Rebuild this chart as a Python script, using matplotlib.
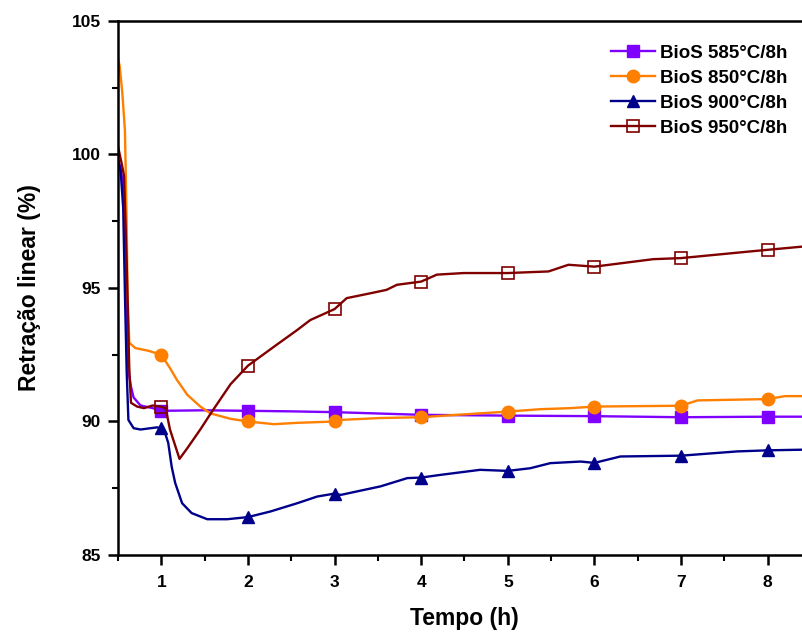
import numpy as np
import matplotlib.pyplot as plt
from matplotlib.ticker import MultipleLocator

plt.rcParams['font.family'] = ['Liberation Sans', 'DejaVu Sans']
plt.rcParams['font.weight'] = 'bold'

# values (time in h, retraction in %)
t_585 = [0.5, 0.53, 0.56, 0.6, 0.62, 0.65, 0.68, 0.76, 0.9, 1.0, 1.5, 2.0, 2.5, 3.0, 3.5, 4.0, 5.0, 6.0, 7.0, 8.0, 8.5]
y_585 = [99.8, 99.5, 98.8, 95.1, 91.9, 91.3, 90.9, 90.6, 90.5, 90.4, 90.42, 90.4, 90.38, 90.35, 90.3, 90.25, 90.22, 90.2, 90.16, 90.18, 90.18]

t_850 = [0.5, 0.52, 0.55, 0.58, 0.6, 0.61, 0.63, 0.7, 0.85, 1.0, 1.1, 1.18, 1.3, 1.45, 1.57, 1.8, 2.0, 2.3, 2.57, 3.0, 3.07, 3.53, 4.0, 4.41, 5.0, 5.37, 5.72, 6.0, 7.0, 7.19, 8.0, 8.2, 8.5]
y_850 = [103.6, 103.3, 102.3, 100.9, 97.5, 94.8, 92.95, 92.75, 92.65, 92.5, 92.0, 91.56, 91.0, 90.56, 90.3, 90.1, 90.0, 89.9, 89.95, 90.0, 90.06, 90.13, 90.16, 90.25, 90.37, 90.46, 90.5, 90.56, 90.59, 90.79, 90.84, 90.95, 90.95]

t_900 = [0.5, 0.53, 0.56, 0.58, 0.6, 0.62, 0.68, 0.76, 0.95, 1.0, 1.04, 1.08, 1.12, 1.16, 1.24, 1.35, 1.53, 1.76, 2.0, 2.26, 2.57, 2.8, 3.0, 3.07, 3.53, 3.84, 4.0, 4.22, 4.68, 5.0, 5.26, 5.49, 5.84, 6.0, 6.3, 7.0, 7.65, 8.0, 8.5]
y_900 = [99.8, 99.4, 98.0, 94.8, 91.9, 90.06, 89.75, 89.7, 89.78, 89.75, 89.6, 89.2, 88.3, 87.7, 86.94, 86.57, 86.34, 86.34, 86.42, 86.63, 86.94, 87.19, 87.3, 87.25, 87.57, 87.88, 87.9, 88.0, 88.19, 88.15, 88.25, 88.44, 88.5, 88.45, 88.69, 88.72, 88.88, 88.92, 88.95]

t_950 = [0.5, 0.54, 0.57, 0.6, 0.63, 0.65, 0.72, 0.8, 0.9, 1.0, 1.05, 1.1, 1.21, 1.3, 1.45, 1.57, 1.8, 2.0, 2.3, 2.57, 2.72, 3.0, 3.14, 3.41, 3.6, 3.72, 4.0, 4.18, 4.49, 5.0, 5.47, 5.7, 6.0, 6.68, 7.0, 7.8, 8.0, 8.5]
y_950 = [100.3, 99.7, 99.2, 96.0, 92.0, 90.7, 90.56, 90.5, 90.6, 90.55, 90.5, 89.7, 88.6, 89.0, 89.7, 90.3, 91.4, 92.09, 92.8, 93.43, 93.8, 94.21, 94.62, 94.8, 94.93, 95.12, 95.24, 95.5, 95.56, 95.56, 95.62, 95.87, 95.8, 96.08, 96.12, 96.37, 96.43, 96.58]

marker_hours = [1, 2, 3, 4, 5, 6, 7, 8]

series = [
    (t_585, y_585, '#7F00FF', 's', 'full', 'BioS 585°C/8h'),
    (t_850, y_850, '#FF7F00', 'o', 'full', 'BioS 850°C/8h'),
    (t_900, y_900, '#00008B', '^', 'full', 'BioS 900°C/8h'),
    (t_950, y_950, '#800000', 's', 'none', 'BioS 950°C/8h'),
]

fig = plt.figure(figsize=(8.03, 6.35), dpi=100)
# axes run a little past the right edge, like the cropped original
ax = fig.add_axes([118 / 803, 80 / 635, 693 / 803, 534 / 635])

for t, y, c, m, fill, lab in series:
    idx = [i for i, v in enumerate(t) if v in marker_hours]
    ax.plot(t, y, color=c, lw=1.7, marker=m, markevery=idx, ms=9,
            fillstyle=fill, markeredgewidth=1.2 if fill == 'none' else 1.0,
            label=lab)

ax.set_xlim(0.5, 8.5)
ax.set_ylim(85, 105)
ax.xaxis.set_major_locator(MultipleLocator(1))
ax.xaxis.set_minor_locator(MultipleLocator(0.5))
ax.yaxis.set_major_locator(MultipleLocator(5))
ax.yaxis.set_minor_locator(MultipleLocator(2.5))
ax.set_xticks([1, 2, 3, 4, 5, 6, 7, 8])

for s in ax.spines.values():
    s.set_linewidth(1.8)
ax.tick_params(which='major', direction='out', length=7.5, width=1.8, labelsize=12.5)
ax.tick_params(which='minor', direction='out', length=4, width=1.5)
ax.tick_params(axis='x', pad=7)
ax.tick_params(axis='y', pad=5)

ax.set_xlabel('Tempo (h)', fontsize=16.5, fontweight='bold', labelpad=12)
ax.set_ylabel('Retração linear (%)', fontsize=16.5, fontweight='bold', labelpad=22)

fig.legend(loc='upper left', bbox_to_anchor=(604 / 803, 1 - 37 / 635),
           frameon=False, fontsize=13.5, handlelength=2.3, handletextpad=0.3,
           labelspacing=0.42, borderaxespad=0)

fig.savefig('out.png', dpi=100)
